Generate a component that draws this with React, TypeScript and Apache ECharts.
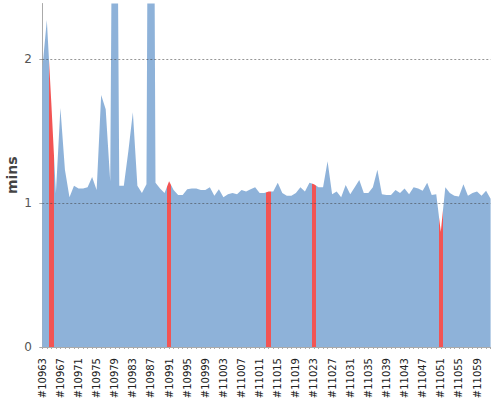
import React, { useEffect, useRef } from 'react';
import * as echarts from 'echarts';

const builds = [
  10963, 10964, 10965, 10966, 10967, 10968, 10969, 10970, 10971, 10972,
  10973, 10974, 10975, 10976, 10977, 10978, 10979, 10980, 10981, 10982,
  10983, 10984, 10985, 10986, 10987, 10988, 10989, 10990, 10991, 10992,
  10993, 10994, 10995, 10996, 10997, 10998, 10999, 11000, 11001, 11002,
  11003, 11004, 11005, 11006, 11007, 11008, 11009, 11010, 11011, 11012,
  11013, 11014, 11015, 11016, 11017, 11018, 11019, 11020, 11021, 11022,
  11023, 11024, 11025, 11026, 11027, 11028, 11029, 11030, 11031, 11032,
  11033, 11034, 11035, 11036, 11037, 11038, 11039, 11040, 11041, 11042,
  11043, 11044, 11045, 11046, 11047, 11048, 11049, 11050, 11051, 11052,
  11053, 11054, 11055, 11056, 11057, 11058, 11059, 11060, 11061, 11062,
];

// build durations in minutes
const durations = [
  1.93, 2.27, 1.69, 1.07, 1.66, 1.23, 1.04, 1.12, 1.1, 1.1,
  1.11, 1.18, 1.09, 1.75, 1.65, 1.15, 6.0, 1.12, 1.12, 1.36,
  1.63, 1.12, 1.07, 1.13, 8.0, 1.14, 1.1, 1.07, 1.15, 1.09,
  1.055, 1.055, 1.095, 1.1, 1.1, 1.09, 1.09, 1.11, 1.05, 1.095,
  1.04, 1.06, 1.07, 1.06, 1.09, 1.08, 1.095, 1.11, 1.07, 1.07,
  1.08, 1.08, 1.14, 1.07, 1.05, 1.05, 1.07, 1.11, 1.08, 1.14,
  1.13, 1.11, 1.11, 1.29, 1.06, 1.08, 1.04, 1.125, 1.06, 1.11,
  1.16, 1.07, 1.07, 1.11, 1.23, 1.06, 1.055, 1.055, 1.09, 1.07,
  1.1, 1.06, 1.11, 1.1, 1.085, 1.14, 1.055, 1.06, 0.8, 1.11,
  1.07, 1.05, 1.045, 1.13, 1.05, 1.07, 1.08, 1.05, 1.085, 1.03,
];

const failedBuilds = [10965, 10991, 11013, 11023, 11051];
const yTicks = [0, 1, 2];
const gridLines = [1, 2];
const labelEvery = 4;

const BLUE = '#8EB2D9';
const RED = '#F25454';
const FONT = 'DejaVu Sans';

export default function App() {
  const ref = useRef<HTMLDivElement>(null);

  useEffect(() => {
    document.body.style.margin = '0';
    const chart = echarts.init(ref.current as HTMLDivElement, null, { renderer: 'svg' });
    const pieces = failedBuilds.map((b) => {
      const i = builds.indexOf(b);
      return { gt: i - 0.5, lte: i + 0.5, color: RED };
    });
    chart.setOption({
      animation: false,
      textStyle: { fontFamily: FONT },
      grid: { left: 42.3, right: 9.4, top: 3.5, bottom: 53, outerBoundsMode: 'none' },
      visualMap: {
        type: 'piecewise',
        show: false,
        dimension: 0,
        seriesIndex: 0,
        pieces,
        outOfRange: { color: BLUE },
      },
      xAxis: {
        type: 'value',
        min: 0,
        max: builds.length - 1,
        interval: 1,
        offset: 4,
        axisLine: { show: true, lineStyle: { color: '#aaaaaa', width: 1 } },
        axisTick: { show: true, length: 2, lineStyle: { color: '#aaaaaa' } },
        splitLine: { show: false },
        axisLabel: {
          rotate: 90,
          fontSize: 10,
          color: '#222',
          fontFamily: FONT,
          margin: 7,
          formatter: (v: number) =>
            Math.round(v) % labelEvery === 0 && builds[Math.round(v)] !== undefined
              ? '#' + builds[Math.round(v)]
              : '',
        },
      },
      yAxis: {
        type: 'value',
        min: 0,
        max: 2.385,
        interval: 1,
        offset: 2.3,
        name: 'mins',
        nameLocation: 'middle',
        nameGap: 21,
        nameMoveOverlap: false,
        nameTextStyle: { fontWeight: 'bold', fontSize: 14, color: '#444', fontFamily: FONT },
        axisLine: { show: true, lineStyle: { color: '#aaaaaa', width: 1 } },
        axisTick: { show: true, length: 3, customValues: yTicks, lineStyle: { color: '#aaaaaa' } },
        axisLabel: { customValues: yTicks, fontSize: 12, color: '#555', margin: 8, fontFamily: FONT },
        splitLine: { show: false },
      },
      series: [
        {
          type: 'line',
          data: durations.map((v, i) => [i, v]),
          showSymbol: false,
          symbol: 'none',
          lineStyle: { width: 0 },
          areaStyle: { opacity: 1 },
          clip: true,
          silent: true,
          markLine: {
            silent: true,
            symbol: ['none', 'none'],
            label: { show: false },
            lineStyle: { color: 'rgba(64,64,64,0.55)', type: [2, 2], width: 1 },
            emphasis: { disabled: true },
            data: gridLines.map((g) => ({ yAxis: g })),
          },
        },
      ],
    });
    return () => chart.dispose();
  }, []);

  return (
    <div
      ref={ref}
      style={{ position: 'absolute', left: 0, top: 0, width: 500, height: 400 }}
    />
  );
}
